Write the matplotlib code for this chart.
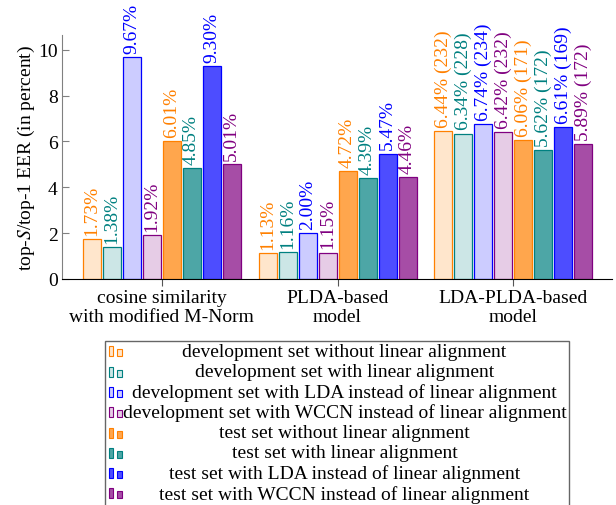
import matplotlib
matplotlib.use('Agg')
import matplotlib.pyplot as plt
import numpy as np
from matplotlib.patches import Rectangle

plt.rcParams['font.family'] = 'Liberation Serif'
plt.rcParams['mathtext.fontset'] = 'stix'

groups = ['cosine similarity\nwith modified M-Norm', 'PLDA-based\nmodel', 'LDA-PLDA-based\nmodel']
series = ['development set without linear alignment',
          'development set with linear alignment',
          'development set with LDA instead of linear alignment',
          'development set with WCCN instead of linear alignment',
          'test set without linear alignment',
          'test set with linear alignment',
          'test set with LDA instead of linear alignment',
          'test set with WCCN instead of linear alignment']
values = [[1.73, 1.13, 6.44],
          [1.38, 1.16, 6.34],
          [9.67, 2.00, 6.74],
          [1.92, 1.15, 6.42],
          [6.01, 4.72, 6.06],
          [4.85, 4.39, 5.62],
          [9.30, 5.47, 6.61],
          [5.01, 4.46, 5.89]]
counts = [232, 228, 234, 232, 171, 172, 169, 172]

edge_cols = ['#FF8000', '#008080', '#0000FF', '#800080'] * 2
fill_cols = ['#FFE6CC', '#CCE6E6', '#CCCCFF', '#E6CCE6',
             '#FFA64D', '#4DA6A6', '#4D4DFF', '#A64DA6']

W, H = 616, 506
fig = plt.figure(figsize=(W / 100, H / 100), dpi=100)
ax = fig.add_axes([62 / W, 1 - 280 / H, 550 / W, 244 / H])

x = np.arange(len(groups))
pitch = 20 / 176
width = 18 / 176
for i in range(len(series)):
    xs = x + (i - 3.5) * pitch
    bars = ax.bar(xs, values[i], width, color=fill_cols[i], edgecolor=edge_cols[i], linewidth=0.9, zorder=2)
    for j, b in enumerate(bars):
        lab = '%.2f%%' % values[i][j]
        if j == 2:
            lab += ' (%d)' % counts[i]
        ax.annotate(lab, (b.get_x() + b.get_width() / 2, b.get_height()), xytext=(0, 3),
                    textcoords='offset points', rotation=90, ha='center', va='bottom',
                    color=edge_cols[i], fontsize=14, annotation_clip=False)

ax.set_xlim(-0.566, 2.56)
ax.set_ylim(0, 10.64)
ax.set_xticks(x)
ax.set_xticklabels(groups, fontsize=14, linespacing=1.15)
ax.set_yticks([0, 2, 4, 6, 8, 10])
ax.tick_params(axis='y', direction='in', length=5, color='#808080', labelsize=14, pad=3)
ax.tick_params(axis='x', direction='out', length=5, color='#555555', pad=2)
ax.spines['top'].set_visible(False)
ax.spines['right'].set_visible(False)
ax.spines['left'].set_color('#808080')
ax.spines['bottom'].set_color('black')
ax.spines['left'].set_zorder(3)
ax.spines['bottom'].set_zorder(3)
ax.set_ylabel('top-$S$/top-1 EER (in percent)', fontsize=14)
ax.yaxis.set_label_coords(-0.046, 0.5)


def px(x0, y0):
    return x0 / W, 1 - y0 / H


# legend box drawn by hand (runs off the bottom of the picture)
fig.patches.append(Rectangle(px(104.7, 520), (569 - 104.7) / W, (520 - 342) / H,
                             transform=fig.transFigure, fill=False, edgecolor='#666666', linewidth=1))
for i, name in enumerate(series):
    yb = 357.3 + 20.3 * i
    fig.patches.append(Rectangle(px(109, yb), 4 / W, 10 / H, transform=fig.transFigure,
                                 facecolor=fill_cols[i], edgecolor=edge_cols[i], linewidth=0.8))
    fig.patches.append(Rectangle(px(117, yb), 5 / W, 7 / H, transform=fig.transFigure,
                                 facecolor=fill_cols[i], edgecolor=edge_cols[i], linewidth=0.8))
    fig.text(344.5 / W, 1 - (352.5 + 20.3 * i) / H, name, ha='center', va='center', fontsize=14)

fig.savefig('out.png', dpi=100)
